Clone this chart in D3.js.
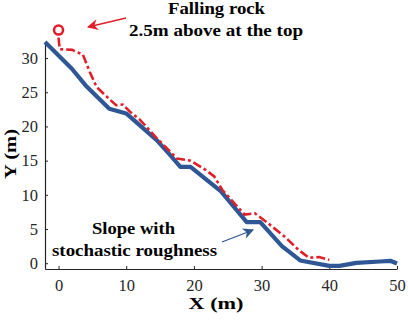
<!DOCTYPE html>
<html>
<head>
<meta charset="utf-8">
<script src="https://cdn.jsdelivr.net/npm/d3@7"></script>
<style>
  body { margin: 0; background: #fff; }
  svg text { font-family: "Liberation Serif", "Times New Roman", serif !important; }
</style>
</head>
<body>
<div id="chart"></div>
<script>
// slope profile (blue, solid)
var slopeX = [-2, 2, 4, 7.5, 10, 14.5, 16.5, 18, 19.5, 24, 27.8, 29.8, 33, 35.7, 40, 41.5, 44, 47.5, 49, 50]
var slopeY = [32.35, 28.4, 26, 22.6, 21.9, 18, 15.8, 14.1, 14.1, 10.5, 6, 6, 2.5, 0.4, -0.4, -0.4, 0.05, 0.25, 0.35, -0.05]

// falling rock trajectory (red, dash-dot)
var rockX = [0, 0.1, 0.2, 2, 3.6, 4.6, 5.6, 7.5, 8.5, 9.5, 10.5, 12, 14.5, 17.5, 19.5, 21.5, 23, 24.2, 27.5, 29, 31, 33.5, 35.5, 37, 38.5, 40]
var rockY = [33, 32, 31.3, 31.2, 30.5, 28, 25.8, 24, 23.1, 23.2, 22.2, 21, 18.3, 15.3, 15, 13.8, 12.7, 10.7, 7.1, 7.3, 5.8, 3.8, 1.9, 0.8, 0.9, 0.5]

// rock start position
var startX = 0
var startY = 34.1

var xTicks = [0, 10, 20, 30, 40, 50]
var yTicks = [0, 5, 10, 15, 20, 25, 30]

var width = 408, height = 320
var axisColor = "#262626"
var blue = "#2f5796"
var red = "#e01f2b"

var svg = d3.select("#chart").append("svg")
    .attr("width", width)
    .attr("height", height)

var x = d3.scaleLinear().domain([-2, 50]).range([45, 397])
var y = d3.scaleLinear().domain([-0.85, 32.35]).range([269, 42])

// Axes (MATLAB style, ticks inward, no box)
svg.append("g")
    .attr("transform", "translate(0," + y.range()[0] + ")")
    .call(d3.axisBottom(x).tickValues(xTicks).tickSizeInner(-3).tickSizeOuter(0).tickPadding(10))
svg.append("g")
    .attr("transform", "translate(" + x.range()[0] + ",0)")
    .call(d3.axisLeft(y).tickValues(yTicks).tickSizeInner(-3).tickSizeOuter(0).tickPadding(7))

svg.selectAll(".domain").attr("stroke", axisColor).attr("stroke-width", 1.2)
svg.selectAll(".tick line").attr("stroke", axisColor)
svg.selectAll(".tick text")
    .attr("fill", axisColor)
    .style("font-size", "16.5px")

// bold labels, stretched to the widths seen in the reference
function label(sel, cx, cy, str, len, size) {
    return sel.append("text")
        .attr("x", cx).attr("y", cy)
        .attr("text-anchor", "middle")
        .attr("textLength", len)
        .attr("lengthAdjust", "spacingAndGlyphs")
        .style("font-size", (size || 17) + "px").style("font-weight", "bold")
        .text(str)
}

label(svg, 216, 309, "X (m)", 55, 16)
label(svg.append("g").attr("transform", "translate(16,154) rotate(-90)"), 0, 0, "Y (m)", 50, 16)

// lines
var line = d3.line().x(function(d){ return x(d[0]) }).y(function(d){ return y(d[1]) })

svg.append("path")
    .datum(d3.zip(slopeX, slopeY))
    .attr("d", line)
    .attr("fill", "none")
    .attr("stroke", blue)
    .attr("stroke-width", 4.2)
    .attr("stroke-linejoin", "round")

svg.append("path")
    .datum(d3.zip(rockX, rockY))
    .attr("d", line)
    .attr("fill", "none")
    .attr("stroke", red)
    .attr("stroke-width", 2.6)
    .attr("stroke-dasharray", "9,3,3,3")

svg.append("circle")
    .attr("cx", x(startX)).attr("cy", y(startY))
    .attr("r", 4.5)
    .attr("fill", "#fff")
    .attr("stroke", red)
    .attr("stroke-width", 2.6)

// arrows
var defs = svg.append("defs")
function marker(id, color) {
    defs.append("marker")
        .attr("id", id)
        .attr("viewBox", "0 0 10 10")
        .attr("refX", 9).attr("refY", 5)
        .attr("markerUnits", "userSpaceOnUse")
        .attr("markerWidth", 15).attr("markerHeight", 11)
        .attr("orient", "auto")
        .append("path")
        .attr("d", "M0,0 L10,5 L0,10 L3,5 Z")
        .attr("fill", color)
}
marker("redHead", red)
marker("blueHead", blue)

svg.append("line")
    .attr("x1", 126).attr("y1", 18).attr("x2", 88).attr("y2", 27)
    .attr("stroke", red).attr("stroke-width", 1.3)
    .attr("marker-end", "url(#redHead)")

svg.append("line")
    .attr("x1", 222).attr("y1", 242).attr("x2", 253).attr("y2", 230)
    .attr("stroke", blue).attr("stroke-width", 1.3)
    .attr("marker-end", "url(#blueHead)")

// annotations
label(svg, 216.5, 14, "Falling rock", 97)
label(svg, 216, 36, "2.5m above at the top", 174)
label(svg, 133.5, 234, "Slope with", 83)
label(svg, 134.5, 256, "stochastic roughness", 165)
</script>
</body>
</html>
